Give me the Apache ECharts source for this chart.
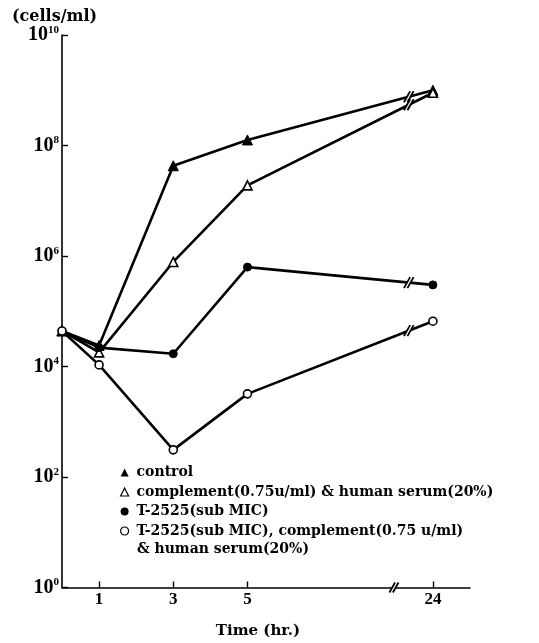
<!DOCTYPE html>
<html>
<head>
<meta charset="utf-8">
<script src="https://cdn.jsdelivr.net/npm/echarts@6/dist/echarts.min.js"></script>
<style>
  html, body { margin: 0; padding: 0; background: #fff; }
  #chart { width: 539px; height: 643px; }
</style>
</head>
<body>
<div id="chart"></div>
<script>
// Sampling times (hr.) and viable counts (cells/ml) for each condition
const hours = [0, 1, 3, 5, 24];
const controlCells = [4.4e4, 2.4e4, 4.3e7, 1.26e8, 1.0e9];
const complementCells = [4.4e4, 1.8e4, 7.8e5, 1.9e7, 9.0e8];
const t2525Cells = [4.4e4, 2.2e4, 1.7e4, 6.3e5, 3.0e5];
const t2525ComplementCells = [4.4e4, 1.07e4, 3.1e2, 3.2e3, 6.6e4];

const seriesNames = [
  'control',
  'complement(0.75u/ml) & human serum(20%)',
  'T-2525(sub MIC)',
  'T-2525(sub MIC), complement(0.75 u/ml)'
];
const legendSecondLine = '& human serum(20%)';

// Axis ticks
const xTickHours = [1, 3, 5, 24];
const yTickExponents = [0, 2, 4, 6, 8, 10];

// Broken time axis: the hours between 5 and 24 are cut out of the scale
const HOURS_CUT = 14;
const axisPos = h => (h > 5 ? h - HOURS_CUT : h);
const axisHour = p => (p > 5 ? p + HOURS_CUT : p);
const AXIS_BREAK_POS = 8.95;   // where the "//" sits on the time axis
const LINE_BREAK_POS = 9.35;   // where the "//" sits on each curve

const SERIF = 'DejaVu Serif';
const NUM = 'Liberation Serif';

const chart = echarts.init(document.getElementById('chart'), null, { renderer: 'canvas' });

function toPoints(values) {
  return hours.map((h, i) => [axisPos(h), values[i]]);
}

const filled = { color: '#000', borderColor: '#000', borderWidth: 1 };
const hollow = { color: '#fff', borderColor: '#000', borderWidth: 1.6 };

function lineSeries(name, values, symbol, size, style) {
  return {
    name: name,
    type: 'line',
    data: toPoints(values),
    symbol: symbol,
    symbolSize: size,
    showAllSymbol: true,
    lineStyle: { color: '#000', width: 2.6 },
    itemStyle: style,
    emphasis: { disabled: true },
    z: 3
  };
}

const option = {
  animation: false,
  backgroundColor: '#fff',
  grid: { left: 62, top: 35, width: 408, bottom: 55.5, containLabel: false },
  xAxis: {
    type: 'value',
    min: 0,
    max: 11,
    axisLine: { show: true, lineStyle: { color: '#000', width: 1.6 } },
    axisTick: {
      show: true, inside: true, length: 6,
      lineStyle: { color: '#000', width: 1.4 },
      customValues: xTickHours.map(axisPos)
    },
    axisLabel: {
      customValues: xTickHours.map(axisPos),
      formatter: v => String(axisHour(v)),
      color: '#000', fontFamily: NUM, fontWeight: 'bold', fontSize: 17, margin: 4
    },
    splitLine: { show: false }
  },
  yAxis: {
    type: 'log',
    logBase: 10,
    min: 1,
    max: 1e10,
    axisLine: { show: true, lineStyle: { color: '#000', width: 1.6 } },
    axisTick: {
      show: true, inside: true, length: 6,
      lineStyle: { color: '#000', width: 1.4 },
      customValues: yTickExponents.map(e => Math.pow(10, e))
    },
    axisLabel: {
      customValues: yTickExponents.map(e => Math.pow(10, e)),
      formatter: v => '{b|10}{e|' + Math.round(Math.log10(v)) + '}',
      margin: 3,
      rich: {
        b: { fontFamily: NUM, fontWeight: 'bold', fontSize: 20, color: '#000' },
        e: { fontFamily: NUM, fontWeight: 'bold', fontSize: 11, color: '#000', verticalAlign: 'bottom', padding: [0, 0, 10, 0] }
      }
    },
    splitLine: { show: false }
  },
  legend: {
    orient: 'vertical',
    left: 115,
    top: 460,
    itemWidth: 8,
    itemHeight: 8,
    itemGap: 4.5,
    selectedMode: false,
    textStyle: {
      fontFamily: SERIF, fontWeight: 'bold', fontSize: 14, color: '#000',
      lineHeight: 15, padding: [0, 0, 0, 3]
    },
    data: [
      { name: seriesNames[0], icon: 'triangle', itemStyle: { color: '#000', borderWidth: 0 } },
      { name: seriesNames[1], icon: 'triangle', itemStyle: { color: '#fff', borderColor: '#000', borderWidth: 1.2 } },
      { name: seriesNames[2], icon: 'circle', itemStyle: { color: '#000', borderWidth: 0 } },
      { name: seriesNames[3], icon: 'circle', itemStyle: { color: '#fff', borderColor: '#000', borderWidth: 1.2 } }
    ]
  },
  series: [
    lineSeries(seriesNames[0], controlCells, 'triangle', 10, filled),
    lineSeries(seriesNames[1], complementCells, 'triangle', 9, hollow),
    lineSeries(seriesNames[2], t2525Cells, 'circle', 8, filled),
    lineSeries(seriesNames[3], t2525ComplementCells, 'circle', 8, hollow)
  ]
};

chart.setOption(option);

// "//" break marks: a white gap bounded by two slanted strokes
function breakMark(cx, cy, h, gap) {
  const slant = h * 0.28;
  const x1 = cx - gap / 2, x2 = cx + gap / 2;
  const top = cy - h / 2, bot = cy + h / 2;
  return [
    {
      type: 'polygon', z: 20, silent: true,
      shape: { points: [[x1 - slant, bot], [x1 + slant, top], [x2 + slant, top], [x2 - slant, bot]] },
      style: { fill: '#fff', stroke: null }
    },
    {
      type: 'line', z: 21, silent: true,
      shape: { x1: x1 - slant, y1: bot, x2: x1 + slant, y2: top },
      style: { stroke: '#000', lineWidth: 1.8 }
    },
    {
      type: 'line', z: 21, silent: true,
      shape: { x1: x2 - slant, y1: bot, x2: x2 + slant, y2: top },
      style: { stroke: '#000', lineWidth: 1.8 }
    }
  ];
}

const elements = [];
const lastIdx = hours.length - 1;
[controlCells, complementCells, t2525Cells, t2525ComplementCells].forEach(values => {
  const a = chart.convertToPixel({ gridIndex: 0 }, [axisPos(hours[lastIdx - 1]), values[lastIdx - 1]]);
  const b = chart.convertToPixel({ gridIndex: 0 }, [axisPos(hours[lastIdx]), values[lastIdx]]);
  const bx = chart.convertToPixel({ gridIndex: 0 }, [LINE_BREAK_POS, 1])[0];
  const t = (bx - a[0]) / (b[0] - a[0]);
  const by = a[1] + t * (b[1] - a[1]);
  breakMark(bx, by, 11, 3.5).forEach(e => elements.push(e));
});
const axisBreak = chart.convertToPixel({ gridIndex: 0 }, [AXIS_BREAK_POS, 1]);
breakMark(axisBreak[0], axisBreak[1], 10, 3.5).forEach(e => elements.push(e));

elements.push({
  type: 'text', left: 12, top: 9, z: 30,
  style: { text: '(cells/ml)', font: 'bold 16px "' + SERIF + '"', fill: '#000' }
});
elements.push({
  type: 'text', z: 30,
  x: 258, y: 631,
  style: { text: 'Time (hr.)', font: 'bold 15px "' + SERIF + '"', fill: '#000', align: 'center', verticalAlign: 'middle' }
});
elements.push({
  type: 'text', z: 30,
  x: 137, y: 549,
  style: { text: legendSecondLine, font: 'bold 14px "' + SERIF + '"', fill: '#000', verticalAlign: 'middle' }
});

chart.setOption({ graphic: { elements: elements } });
</script>
</body>
</html>
